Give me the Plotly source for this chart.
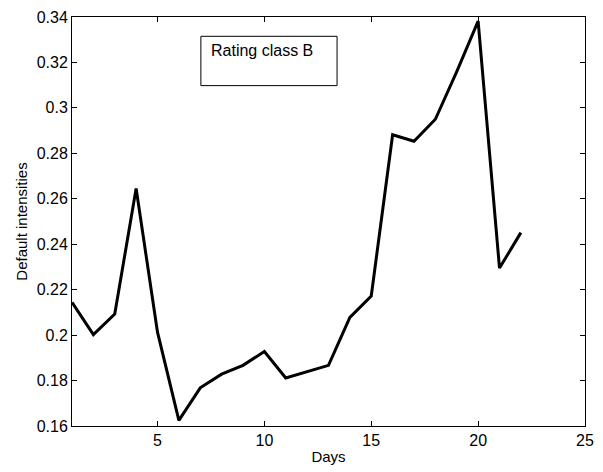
import plotly.graph_objects as go

# Daily default intensity estimates for rating class B
days = list(range(1, 23))
intensities = [0.2144, 0.2002, 0.2093, 0.2645, 0.2013, 0.1625, 0.1768, 0.1828,
               0.1867, 0.1928, 0.1811, 0.1839, 0.1867, 0.2078, 0.2172, 0.2882,
               0.2853, 0.2950, 0.3160, 0.3382, 0.2295, 0.2451]

x_ticks = [5, 10, 15, 20, 25]
y_ticks = [0.16, 0.18, 0.2, 0.22, 0.24, 0.26, 0.28, 0.3, 0.32, 0.34]
y_tick_text = ["0.16", "0.18", "0.2", "0.22", "0.24", "0.26", "0.28", "0.3", "0.32", "0.34"]

FONT = "Liberation Sans, Arial, Helvetica, sans-serif"

fig = go.Figure()
fig.add_trace(go.Scatter(
    x=days, y=intensities, mode="lines",
    line=dict(color="black", width=3),
    showlegend=False, hoverinfo="skip",
))

axis_common = dict(
    showline=True, linecolor="black", linewidth=1, mirror="allticks",
    ticks="inside", ticklen=5, tickwidth=1, tickcolor="black",
    showgrid=False, zeroline=False,
    tickfont=dict(family=FONT, size=16, color="black"),
)

fig.update_layout(
    width=603, height=472,
    margin=dict(l=72, r=9, t=15, b=46),
    paper_bgcolor="white", plot_bgcolor="white",
    font=dict(family=FONT, size=15, color="black"),
    xaxis=dict(range=[1, 25], tickvals=x_ticks,
               title=dict(text="Days", standoff=3,
                          font=dict(family=FONT, size=15)),
               **axis_common),
    yaxis=dict(range=[0.16, 0.34], tickvals=y_ticks, ticktext=y_tick_text,
               title=dict(text="Default intensities", standoff=5,
                          font=dict(family=FONT, size=15)),
               **axis_common),
    shapes=[dict(type="rect", xref="x", yref="y",
                 x0=7.03, x1=13.4, y0=0.3098, y1=0.3315,
                 line=dict(color="black", width=1), fillcolor="white",
                 layer="above")],
    annotations=[dict(text="Rating class B", xref="x", yref="y",
                      x=7.41, y=0.3254, xanchor="left", yanchor="middle",
                      showarrow=False,
                      font=dict(family=FONT, size=16, color="black"))],
)

fig.write_html("out.html")
